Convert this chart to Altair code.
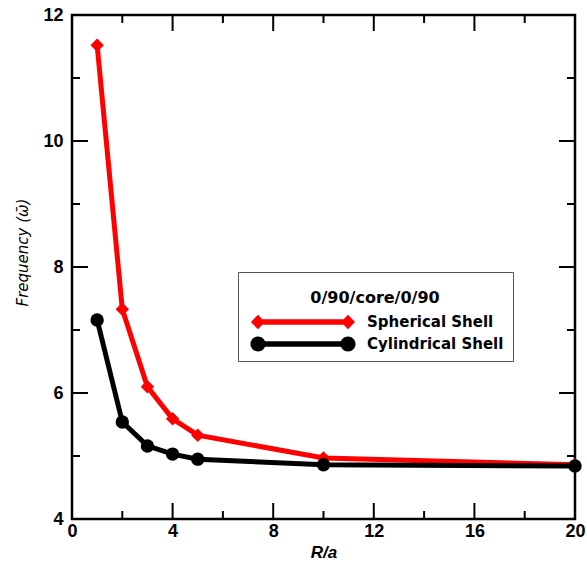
import altair as alt
import pandas as pd

# Frequency versus R/a for the 0/90/core/0/90 layup
r_over_a = [1, 2, 3, 4, 5, 10, 20]
spherical = [11.52, 7.33, 6.10, 5.59, 5.33, 4.97, 4.86]
cylindrical = [7.16, 5.54, 5.16, 5.03, 4.95, 4.86, 4.84]

series_names = ["Spherical Shell", "Cylindrical Shell"]
series_colors = ["#ff0000", "#000000"]
marker_shapes = ["diamond", "circle"]

x_major = [0, 4, 8, 12, 16, 20]
x_minor = [2, 6, 10, 14, 18]
y_major = [4, 6, 8, 10, 12]
y_minor = [5, 7, 9, 11]

W, H = 503, 504          # plot area
MAJOR, MINOR = 16, 8     # inward tick lengths

df = pd.DataFrame({
    "ra": r_over_a * 2,
    "freq": spherical + cylindrical,
    "series": [series_names[0]] * len(r_over_a) + [series_names[1]] * len(r_over_a),
})

# Legend glyphs: a thick segment with a marker at each end (unit = sqrt(symbolSize)/2 px)
bar = "M0.375,-0.34 L11.625,-0.34 L11.625,0.34 L0.375,0.34 Z"
diamond_glyph = ("M-0.5,0 L0.375,-0.92 L1.25,0 L0.375,0.92 Z " + bar +
                 " M10.75,0 L11.625,-0.92 L12.5,0 L11.625,0.92 Z")
circle_glyph = ("M-0.565,0 A0.94,0.94 0 1,1 1.315,0 A0.94,0.94 0 1,1 -0.565,0 Z " + bar +
                " M10.685,0 A0.94,0.94 0 1,1 12.565,0 A0.94,0.94 0 1,1 10.685,0 Z")
legend_glyphs = [diamond_glyph, circle_glyph]

x_scale = alt.Scale(domain=[0, 20], nice=False, zero=False)
y_scale = alt.Scale(domain=[4, 12], nice=False, zero=False)

TICK_FONT = "Liberation Sans"

label_style = dict(
    domain=False, ticks=False, grid=False, labelFlush=False,
    labelFont=TICK_FONT, labelFontSize=18, labelFontWeight="bold", labelColor="black",
)

x_axis = alt.Axis(
    orient="bottom", values=x_major, labelPadding=3, title="R/a",
    titleFont=TICK_FONT, titleFontSize=17, titleFontWeight="bold",
    titleFontStyle="italic", titleColor="black", titlePadding=4,
    **label_style)
y_axis = alt.Axis(
    orient="left", values=y_major, labelPadding=9, title="Frequency (ω̄)",
    titleFont="DejaVu Sans", titleFontSize=15, titleFontWeight="normal",
    titleFontStyle="italic", titleColor="black", titlePadding=12,
    titleY=237, **label_style)

base = alt.Chart(df)


def series_layers(i):
    """Line and filled markers of one series; the first series carries the axes."""
    name, color, shape = series_names[i], series_colors[i], marker_shapes[i]
    src = base.transform_filter(alt.datum.series == name)
    enc = dict(
        x=alt.X("ra:Q", scale=x_scale, axis=x_axis if i == 0 else None),
        y=alt.Y("freq:Q", scale=y_scale, axis=y_axis if i == 0 else None),
    )
    line = src.mark_line(color=color, strokeWidth=5).encode(**enc)
    marks = src.mark_point(shape=shape, color=color, filled=True, size=180, opacity=1).encode(
        x=alt.X("ra:Q", scale=x_scale, axis=None),
        y=alt.Y("freq:Q", scale=y_scale, axis=None),
    )
    return [line, marks]


data_layers = series_layers(0) + series_layers(1)

legend = alt.Legend(
    title="0/90/core/0/90", orient="none", legendX=166, legendY=257,
    titleFont="DejaVu Sans", titleFontSize=16, titleFontWeight="bold", titleColor="black",
    titleAnchor="middle", titleBaseline="line-top", titleLineHeight=34, titlePadding=17,
    labelFont="DejaVu Sans", labelFontSize=15, labelFontWeight="bold", labelColor="black",
    labelOffset=104, symbolSize=256, symbolOpacity=1, symbolStrokeWidth=0,
    rowPadding=6, padding=9, strokeColor="#555555", fillColor="white",
)

# Invisible layer that carries the legend with its line-and-marker glyphs
legend_layer = base.mark_point(filled=True, opacity=0).encode(
    x=alt.X("ra:Q", scale=x_scale, axis=None),
    y=alt.Y("freq:Q", scale=y_scale, axis=None),
    color=alt.Color("series:N", scale=alt.Scale(domain=series_names, range=series_colors),
                    legend=legend),
    shape=alt.Shape("series:N", scale=alt.Scale(domain=series_names, range=legend_glyphs),
                    legend=legend),
)


def x_ticks(values, length):
    """Inward ticks on the bottom and top frame edges."""
    src = alt.Chart(pd.DataFrame({"tx": values})).mark_rule(color="black", strokeWidth=2)
    x = alt.X("tx:Q", scale=x_scale, axis=None)
    return [
        src.encode(x=x, y=alt.value(H), y2=alt.value(H - length)),
        src.encode(x=x, y=alt.value(0), y2=alt.value(length)),
    ]


def y_ticks(values, length):
    """Inward ticks on the left and right frame edges."""
    src = alt.Chart(pd.DataFrame({"ty": values})).mark_rule(color="black", strokeWidth=2)
    y = alt.Y("ty:Q", scale=y_scale, axis=None)
    return [
        src.encode(y=y, x=alt.value(0), x2=alt.value(length)),
        src.encode(y=y, x=alt.value(W), x2=alt.value(W - length)),
    ]


tick_layers = (x_ticks(x_major, MAJOR) + x_ticks(x_minor, MINOR) +
               y_ticks(y_major, MAJOR) + y_ticks(y_minor, MINOR))

chart = (
    alt.layer(*data_layers, legend_layer, *tick_layers)
    .resolve_axis(x="independent", y="independent")
    .properties(
        width=W, height=H,
        autosize=alt.AutoSizeParams(type="none"),
        padding={"left": 72, "top": 15, "right": 12, "bottom": 53},
        background="white",
    )
    .configure_view(stroke="black", strokeWidth=2.5)
)

chart.save("out.html", embed_options={"renderer": "svg", "actions": False})
